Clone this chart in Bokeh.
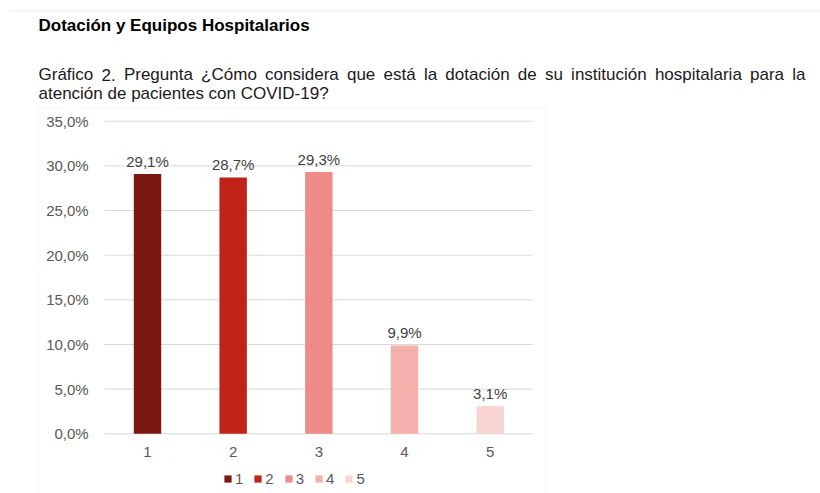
from bokeh.plotting import figure
from bokeh.models import (Range1d, ColumnDataSource, Label, LabelSet, BoxAnnotation,
                          Legend, LegendItem, FixedTicker, LinearAxis)
from bokeh.core.properties import value
from bokeh.embed import file_html
from bokeh.resources import INLINE

# ---------------- data ----------------
header = "Dotación y Equipos Hospitalarios"
question_line1 = "Gráfico 2. Pregunta ¿Cómo considera que está la dotación de su institución hospitalaria para la"
question_line2 = "atención de pacientes con COVID-19?"
categories = ["1", "2", "3", "4", "5"]
percentages = [29.1, 28.7, 29.3, 9.9, 3.1]
bar_labels = ["29,1%", "28,7%", "29,3%", "9,9%", "3,1%"]
bar_colors = ["#7B1810", "#C22318", "#EF8B86", "#F4B1AC", "#F8D5D3"]
y_ticks = [0, 5, 10, 15, 20, 25, 30, 35]
y_tick_labels = ["0,0%", "5,0%", "10,0%", "15,0%", "20,0%", "25,0%", "30,0%", "35,0%"]

FONT = "Liberation Sans"
W_PX, H_PX = 820, 493

# Arial / Liberation Sans advance widths (per 1000 em), used to justify line 1
W = {' ': 278, 'a': 556, 'b': 556, 'c': 500, 'd': 556, 'e': 556, 'f': 278, 'g': 556,
     'h': 556, 'i': 222, 'j': 222, 'k': 500, 'l': 222, 'm': 833, 'n': 556, 'o': 556,
     'p': 556, 'q': 556, 'r': 333, 's': 500, 't': 278, 'u': 556, 'v': 500, 'w': 722,
     'x': 500, 'y': 500, 'z': 500, 'á': 556, 'é': 556, 'í': 278, 'ó': 556, 'ú': 556,
     'G': 778, 'P': 667, 'C': 722, 'O': 778, 'V': 667, 'I': 278, 'D': 722, '¿': 611,
     '?': 556, '.': 278, ',': 278, '-': 333, '%': 889}
for d in "0123456789":
    W[d] = 556

x_vals = [int(c) for c in categories]
src = ColumnDataSource(dict(x=x_vals, val=percentages, lbl=bar_labels, color=bar_colors))

# The frame covers the whole page; the chart area lies inside it.
p = figure(width=W_PX, height=H_PX, x_range=Range1d(-0.7159, 8.8557),
           y_range=Range1d(-6.685, 48.516), output_backend="svg", toolbar_location=None,
           min_border=0, x_axis_location=None, y_axis_location=None)
p.outline_line_color = None
p.background_fill_color = "white"
p.border_fill_color = "white"
p.grid.grid_line_color = None

# horizontal grid lines spanning the category area
gx0 = min(x_vals) - 0.5
gx1 = max(x_vals) + 0.5
p.segment(x0=[gx0] * len(y_ticks), x1=[gx1] * len(y_ticks), y0=y_ticks, y1=y_ticks,
          line_color="#D9D9D9", line_width=1)

bars = p.vbar(x="x", top="val", width=0.32, source=src, fill_color="color", line_color=None)

labels = LabelSet(x="x", y="val", text="lbl", source=src, text_align="center",
                  text_baseline="alphabetic", y_offset=7, text_font=value(FONT),
                  text_font_size=value("15px"), text_color=value("#404040"))
p.add_layout(labels)

# axes fixed inside the frame
yaxis = LinearAxis(ticker=FixedTicker(ticks=y_ticks), fixed_location=gx0)
yaxis.major_label_overrides = {t: l for t, l in zip(y_ticks, y_tick_labels)}
xaxis = LinearAxis(ticker=FixedTicker(ticks=x_vals), fixed_location=0)
xaxis.major_label_overrides = {x: c for x, c in zip(x_vals, categories)}
for ax in (xaxis, yaxis):
    ax.axis_line_color = None
    ax.major_tick_line_color = None
    ax.minor_tick_line_color = None
    ax.major_tick_out = 0
    ax.major_tick_in = 0
    ax.major_label_text_font = FONT
    ax.major_label_text_font_size = "15px"
    ax.major_label_text_color = "#595959"
yaxis.major_label_standoff = 16
xaxis.major_label_standoff = 13
p.add_layout(yaxis, "left")
p.add_layout(xaxis, "below")

legend = Legend(items=[LegendItem(label=c, renderers=[bars], index=i) for i, c in enumerate(categories)],
                orientation="horizontal", location=(223, 6.5), glyph_width=9, glyph_height=9,
                label_standoff=3, spacing=10, padding=0, margin=0, label_width=8, label_height=15,
                border_line_color=None, background_fill_alpha=0,
                label_text_font=FONT, label_text_font_size="15px", label_text_color="#595959")
p.add_layout(legend)

def sy(page_y):
    return H_PX - page_y

# chart box and faint top rule
p.add_layout(BoxAnnotation(left=37.5, right=545.5, top=sy(107.5), bottom=-10,
                           left_units="screen", right_units="screen", top_units="screen",
                           bottom_units="screen", fill_alpha=0, line_color="#D9D9D9", line_width=1))
p.add_layout(BoxAnnotation(left=8, right=W_PX, top=sy(10), bottom=sy(11),
                           left_units="screen", right_units="screen", top_units="screen",
                           bottom_units="screen", fill_color="#EEEEEE", fill_alpha=1, line_alpha=0))

# texts
p.add_layout(Label(x=38, y=sy(25), x_units="screen", y_units="screen", text=header,
                   text_font=FONT, text_font_style="bold", text_font_size="17px",
                   text_color="#000000", text_baseline="alphabetic"))

fs = 17
words = question_line1.split(" ")
x_left, x_right = 38, 805
widths = [sum(W.get(ch, 556) for ch in w) * fs / 1000 for w in words]
gap = (x_right - x_left - sum(widths)) / (len(words) - 1)
xpos = x_left
for w, wd in zip(words, widths):
    p.add_layout(Label(x=xpos, y=sy(74), x_units="screen", y_units="screen", text=w,
                       text_font=FONT, text_font_size=f"{fs}px", text_color="#1A1A1A",
                       text_baseline="alphabetic"))
    xpos += wd + gap
p.add_layout(Label(x=38, y=sy(93), x_units="screen", y_units="screen", text=question_line2,
                   text_font=FONT, text_font_size=f"{fs}px", text_color="#1A1A1A",
                   text_baseline="alphabetic"))

open("out.html", "w").write(file_html(p, INLINE))
